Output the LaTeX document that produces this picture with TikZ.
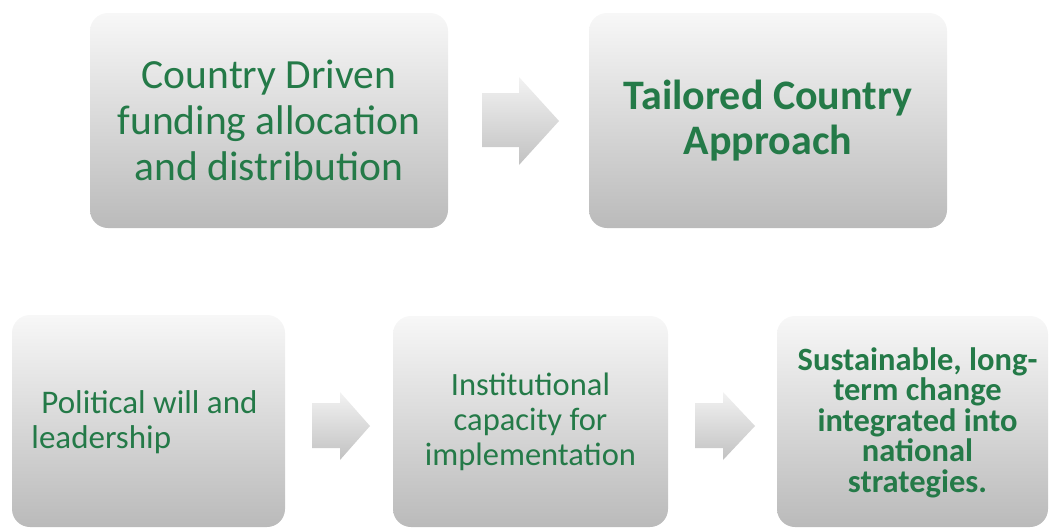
\documentclass[tikz,border=0pt]{standalone}
\usepackage{fontspec}
\setmainfont{Carlito}
\definecolor{txtgreen}{RGB}{36,122,72}
\begin{document}
\begin{tikzpicture}[x=1pt,y=-1pt,
  box/.style={rectangle, rounded corners=18pt, inner sep=0pt,
    top color=black!3, middle color=black!8, bottom color=black!27,
    text=txtgreen, align=center},
  arrowshade/.style={top color=black!5, bottom color=black!24, draw=none}]
\useasboundingbox (0,0) rectangle (1050,528);
% top row
\node[box, minimum width=358pt, minimum height=215pt] (cd) at (269,120.5) {};
\node[text=txtgreen, align=center, inner sep=0pt,
  font=\fontsize{41.5pt}{46pt}\selectfont] (cdt) at (cd.center)
  {Country Driven\\funding allocation\\and distribution};
\node[box, minimum width=358pt, minimum height=215pt] (tc) at (768,120.5) {};
\node[text=txtgreen, align=center, inner sep=0pt,
  font=\fontsize{42pt}{45pt}\selectfont\bfseries] (tct) at (tc.center)
  {Tailored Country\\Approach};
% bottom row
\node[box, minimum width=273pt, minimum height=212pt] (pw) at (148.5,421) {};
\node[text=txtgreen, align=left, inner sep=0pt,
  font=\fontsize{33pt}{35pt}\selectfont] (pwt) at ([xshift=-4pt,yshift=-1pt]pw.center)
  {\hspace*{10pt}Political will and\\leadership};
\node[box, minimum width=275pt, minimum height=211pt] (ic) at (530.5,421.5) {};
\node[text=txtgreen, align=center, inner sep=0pt,
  font=\fontsize{32.5pt}{35pt}\selectfont] (ict) at (ic.center)
  {Institutional\\capacity for\\implementation};
\node[box, minimum width=271pt, minimum height=211pt] (sl) at (912.5,421.5) {};
\node[text=txtgreen, align=center, inner sep=0pt,
  font=\fontsize{32.5pt}{30.5pt}\selectfont\bfseries] (slt) at ([xshift=5pt,yshift=-1pt]sl.center)
  {Sustainable, long-\\term change\\integrated into\\national\\strategies.};
% block arrows
\shade[arrowshade] (482,93) -- (519,93) -- (519,77) -- (559,121) -- (519,165)
  -- (519,147) -- (482,147) -- cycle;
\shade[arrowshade] (312,403) -- (340,403) -- (340,392) -- (370,426) -- (340,460)
  -- (340,448) -- (312,448) -- cycle;
\shade[arrowshade] (695,403) -- (723,403) -- (723,392) -- (755,426) -- (723,460)
  -- (723,448) -- (695,448) -- cycle;
\end{tikzpicture}
\end{document}
